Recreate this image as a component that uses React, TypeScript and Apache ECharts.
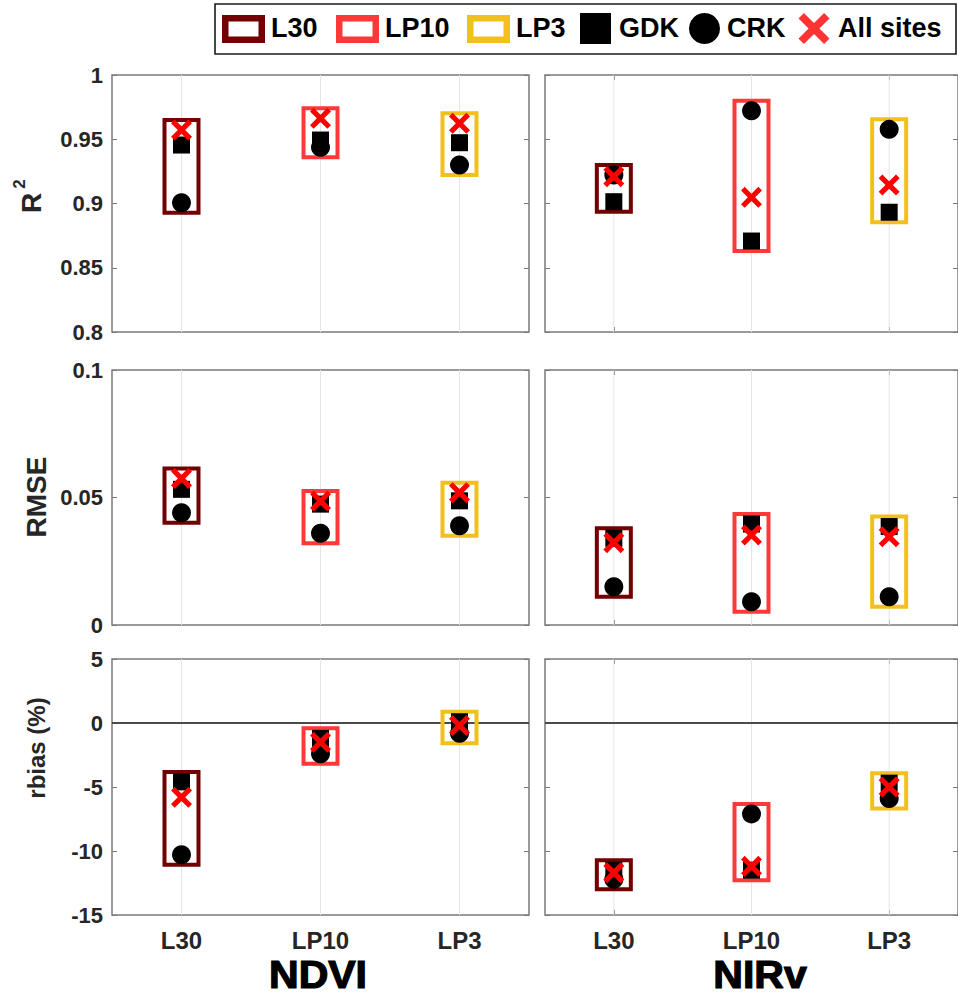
import React, { useEffect, useRef } from 'react';
import * as echarts from 'echarts';

// ---- data -------------------------------------------------------------
const categories = ['L30', 'LP10', 'LP3'];
const boxColors = ['#720000', '#ff3838', '#f2c01c'];

// R²
const ndviR2Gdk = [0.9455, 0.9494, 0.9473];
const ndviR2Crk = [0.9006, 0.9437, 0.93];
const ndviR2All = [0.9572, 0.9663, 0.9624];
const nirvR2Gdk = [0.9014, 0.8708, 0.8932];
const nirvR2Crk = [0.9222, 0.9722, 0.9577];
const nirvR2All = [0.9209, 0.9048, 0.9144];

// RMSE
const ndviRmseGdk = [0.0532, 0.0474, 0.0487];
const ndviRmseCrk = [0.044, 0.036, 0.0389];
const ndviRmseAll = [0.0575, 0.0486, 0.0519];
const nirvRmseGdk = [0.034, 0.0396, 0.0386];
const nirvRmseCrk = [0.015, 0.0091, 0.0111];
const nirvRmseAll = [0.0323, 0.0353, 0.0346];

// rbias (%)
const ndviRbiasGdk = [-4.6, -1.2, 0.1];
const ndviRbiasCrk = [-10.3, -2.4, -0.8];
const ndviRbiasAll = [-5.8, -1.5, -0.2];
const nirvRbiasGdk = [-11.5, -11.5, -4.7];
const nirvRbiasCrk = [-12.2, -7.1, -5.9];
const nirvRbiasAll = [-11.7, -11.2, -5.0];

// axis ranges
const r2Axis = { min: 0.8, max: 1, interval: 0.05 };
const rmseAxis = { min: 0, max: 0.1, interval: 0.05 };
const rbiasAxis = { min: -15, max: 5, interval: 5 };

// ---- layout -----------------------------------------------------------
const FONT = '"Liberation Sans", Arial, Helvetica, sans-serif';
const TEXT = '#262626';
const AXIS_GRAY = '#7a7a7a';
const PANEL_W = 417;
const COL_LEFT = [112, 545];
const ROW_TOP = [75, 370, 659];
const ROW_H = [257, 255, 256];
const ROW_AXES = [r2Axis, rmseAxis, rbiasAxis];

const X_SYMBOL =
  'path://M3.5,0 L10,6.5 L16.5,0 L20,3.5 L13.5,10 L20,16.5 L16.5,20 L10,13.5 L3.5,20 L0,16.5 L6.5,10 L0,3.5 Z';

const panels = [
  { row: 0, col: 0, gdk: ndviR2Gdk, crk: ndviR2Crk, all: ndviR2All },
  { row: 0, col: 1, gdk: nirvR2Gdk, crk: nirvR2Crk, all: nirvR2All },
  { row: 1, col: 0, gdk: ndviRmseGdk, crk: ndviRmseCrk, all: ndviRmseAll },
  { row: 1, col: 1, gdk: nirvRmseGdk, crk: nirvRmseCrk, all: nirvRmseAll },
  { row: 2, col: 0, gdk: ndviRbiasGdk, crk: ndviRbiasCrk, all: ndviRbiasAll },
  { row: 2, col: 1, gdk: nirvRbiasGdk, crk: nirvRbiasCrk, all: nirvRbiasAll },
];

const fmtTick = (v: number) => String(parseFloat(v.toFixed(3)));

// X-shaped polygon centred on (cx, cy), spanning `s` pixels
function crossPoints(cx: number, cy: number, s: number) {
  const raw = [
    [3.5, 0], [10, 6.5], [16.5, 0], [20, 3.5], [13.5, 10], [20, 16.5],
    [16.5, 20], [10, 13.5], [3.5, 20], [0, 16.5], [6.5, 10], [0, 3.5],
  ];
  return raw.map(([x, y]) => [cx + ((x - 10) * s) / 20, cy + ((y - 10) * s) / 20]);
}

function buildOption() {
  const grid: any[] = [];
  const xAxis: any[] = [];
  const yAxis: any[] = [];
  const series: any[] = [];

  panels.forEach((p, i) => {
    const ax = ROW_AXES[p.row];
    grid.push({
      left: COL_LEFT[p.col],
      top: ROW_TOP[p.row],
      width: PANEL_W,
      height: ROW_H[p.row],
      show: true,
      borderColor: AXIS_GRAY,
      borderWidth: 1.5,
      backgroundColor: '#fff',
    });

    const tick = {
      show: true,
      inside: true,
      length: 5,
      lineStyle: { color: AXIS_GRAY, width: 1 },
    };
    const xBase = {
      type: 'value',
      gridIndex: i,
      min: 0.5,
      max: 3.5,
      axisLine: { show: false, onZero: false },
      axisTick: { ...tick, customValues: [1, 2, 3] },
      splitLine: { show: false },
    };
    xAxis.push({
      ...xBase,
      position: 'bottom',
      axisLabel: {
        show: p.row === 2,
        customValues: [1, 2, 3],
        formatter: (v: number) => categories[Math.round(v) - 1] ?? '',
        margin: 13,
        fontSize: 24,
        fontWeight: 'bold',
        color: TEXT,
        fontFamily: FONT,
      },
    });
    xAxis.push({ ...xBase, position: 'top', axisLabel: { show: false } });

    const yBase = {
      type: 'value',
      gridIndex: i,
      min: ax.min,
      max: ax.max,
      interval: ax.interval,
      axisLine: { show: false, onZero: false },
      axisTick: tick,
      splitLine: { show: false },
    };
    yAxis.push({
      ...yBase,
      position: 'left',
      axisLabel: {
        show: p.col === 0,
        formatter: fmtTick,
        margin: 9,
        fontSize: 22,
        fontWeight: 'bold',
        color: TEXT,
        fontFamily: FONT,
      },
    });
    yAxis.push({ ...yBase, position: 'right', axisLabel: { show: false } });

    const xi = 2 * i;
    const yi = 2 * i;

    // vertical grid lines at each category
    series.push({
      type: 'custom',
      xAxisIndex: xi,
      yAxisIndex: yi,
      silent: true,
      z: 1,
      encode: { x: 0, y: 1 },
      data: categories.map((_, j) => [j + 1, ax.min]),
      renderItem: (params: any, api: any) => {
        const c = api.coord([api.value(0), api.value(1)]);
        const cs = params.coordSys;
        return {
          type: 'line',
          shape: { x1: c[0], y1: cs.y, x2: c[0], y2: cs.y + cs.height },
          style: { stroke: '#e4e4e4', lineWidth: 1 },
        };
      },
    });

    // zero reference line for the bias row
    if (ax.min < 0 && ax.max > 0) {
      series.push({
        type: 'custom',
        xAxisIndex: xi,
        yAxisIndex: yi,
        silent: true,
        z: 1,
        encode: { x: 0, y: 1 },
        data: [[0.5, 0]],
        renderItem: (params: any, api: any) => {
          const c = api.coord([api.value(0), api.value(1)]);
          const cs = params.coordSys;
          return {
            type: 'line',
            shape: { x1: cs.x, y1: c[1], x2: cs.x + cs.width, y2: c[1] },
            style: { stroke: '#4a4a4a', lineWidth: 1.8 },
          };
        },
      });
    }

    // product boxes enclosing the site markers
    series.push({
      type: 'custom',
      xAxisIndex: xi,
      yAxisIndex: yi,
      silent: true,
      z: 2,
      encode: { x: 0, y: [1, 2] },
      data: categories.map((_, j) => {
        const vals = [p.gdk[j], p.crk[j], p.all[j]];
        return [j + 1, Math.min(...vals), Math.max(...vals), j];
      }),
      renderItem: (_params: any, api: any) => {
        const x = api.value(0);
        const top = api.coord([x, api.value(2)]);
        const bot = api.coord([x, api.value(1)]);
        const pad = 10;
        return {
          type: 'rect',
          shape: { x: top[0] - 17, y: top[1] - pad, width: 34, height: bot[1] - top[1] + 2 * pad },
          style: { fill: 'none', stroke: boxColors[api.value(3)], lineWidth: 4 },
        };
      },
    });

    const scatter = (name: string, vals: number[], symbol: string, size: number, color: string) => ({
      type: 'scatter',
      name,
      xAxisIndex: xi,
      yAxisIndex: yi,
      silent: true,
      z: 3,
      symbol,
      symbolSize: size,
      itemStyle: { color, opacity: 1 },
      emphasis: { disabled: true },
      data: vals.map((v, j) => [j + 1, v]),
    });
    series.push(scatter('GDK', p.gdk, 'rect', 17, '#000'));
    series.push(scatter('CRK', p.crk, 'circle', 19, '#000'));
    series.push(scatter('All sites', p.all, X_SYMBOL, 21, '#ff0000'));
  });

  // legend, axis titles and panel titles
  const legendText = (text: string, x: number) => ({
    type: 'text',
    x,
    y: 28,
    style: {
      text,
      fill: '#000',
      font: `bold 27px ${FONT}`,
      textAlign: 'left',
      textVerticalAlign: 'middle',
    },
  });
  const legendBox = (x: number, color: string) => ({
    type: 'rect',
    shape: { x: x + 3.25, y: 18.25, width: 36.5, height: 21.5 },
    style: { fill: '#fff', stroke: color, lineWidth: 6.5 },
  });
  const yTitle = (text: string, x: number, y: number, size: number) => ({
    type: 'text',
    x,
    y,
    rotation: Math.PI / 2,
    style: {
      text,
      fill: TEXT,
      font: `bold ${size}px ${FONT}`,
      textAlign: 'center',
      textVerticalAlign: 'middle',
    },
  });
  const bigTitle = (text: string, x: number) => ({
    type: 'text',
    x,
    y: 956,
    scaleX: 1.08,
    style: {
      text,
      fill: '#000',
      stroke: '#000',
      lineWidth: 1.2,
      font: `bold 38px ${FONT}`,
      textAlign: 'center',
      textVerticalAlign: 'top',
    },
  });

  const graphic: any[] = [
    {
      type: 'rect',
      shape: { x: 215, y: 4, width: 741, height: 50 },
      style: { fill: '#fff', stroke: '#1a1a1a', lineWidth: 1.6 },
    },
    legendBox(222, boxColors[0]),
    legendText('L30', 271),
    legendBox(336, boxColors[1]),
    legendText('LP10', 385),
    legendBox(467, boxColors[2]),
    legendText('LP3', 516),
    { type: 'rect', shape: { x: 580, y: 13, width: 31, height: 31 }, style: { fill: '#000' } },
    legendText('GDK', 619),
    { type: 'circle', shape: { cx: 704.5, cy: 28.5, r: 15.5 }, style: { fill: '#000' } },
    legendText('CRK', 727),
    { type: 'polygon', shape: { points: crossPoints(814, 28.5, 31) }, style: { fill: '#ff3333' } },
    legendText('All sites', 838),
    yTitle('R', 31, 203, 28),
    yTitle('2', 19, 184, 17),
    yTitle('RMSE', 36, 497, 28),
    yTitle('rbias (%)', 36, 748, 24),
    bigTitle('NDVI', 318),
    bigTitle('NIRv', 760),
  ];

  return {
    animation: false,
    backgroundColor: '#fff',
    grid,
    xAxis,
    yAxis,
    series,
    graphic,
  };
}

export default function App() {
  const ref = useRef<HTMLDivElement>(null);
  useEffect(() => {
    if (!ref.current) return;
    const chart = echarts.init(ref.current, null, { renderer: 'svg' });
    chart.setOption(buildOption() as any);
    return () => chart.dispose();
  }, []);
  return (
    <div
      ref={ref}
      style={{ position: 'absolute', left: 0, top: 0, width: 958, height: 995, background: '#fff' }}
    />
  );
}
